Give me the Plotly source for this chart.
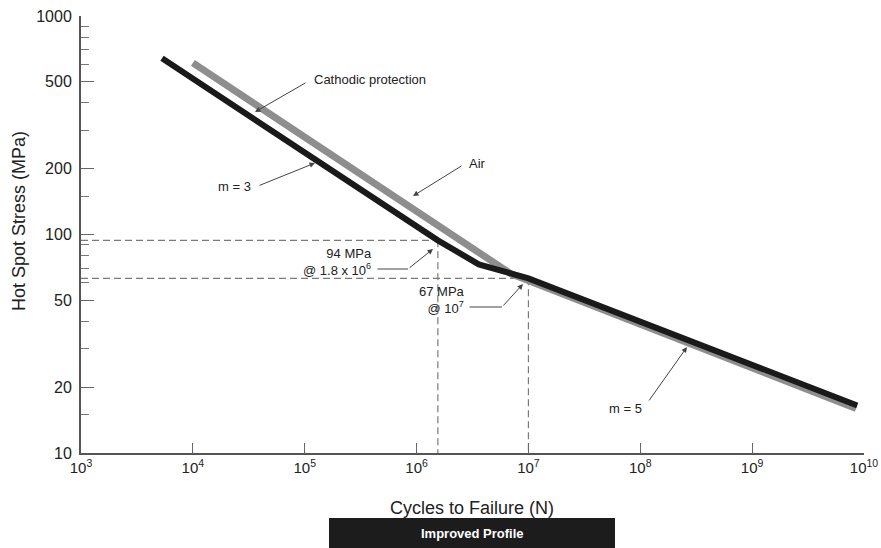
import plotly.graph_objects as go

# ---- data ----
black_cycles = [5.3e3, 1.55e6, 3.6e6, 1.0e7, 8.7e9]
black_stress = [640, 94, 73, 63, 16.5]
gray_cycles = [1.0e4, 7.0e6, 8.5e9]
gray_stress = [610, 66, 16]

knee1_cycles, knee1_stress = 1.55e6, 94
knee2_cycles, knee2_stress = 1.0e7, 63

x_tickvals = [1e3, 1e4, 1e5, 1e6, 1e7, 1e8, 1e9, 1e10]
x_ticktext = ["10<sup>%d</sup>" % e for e in range(3, 11)]
y_tickvals = [10, 20, 50, 100, 200, 500, 1000]
y_ticktext = ["10", "20", "50", "100", "200", "500", "1000"]
y_minor = [15, 30, 40, 60, 70, 80, 90, 150, 300, 400, 600, 700, 800, 900]

FONT = "Liberation Sans, Arial, Helvetica, sans-serif"
W, H = 881, 548
# plot area in page pixels: x 81..864, y 16..453
L, T = 81, 16
R = W - 864
B = H - 453
PW, PH = W - L - R, H - T - B


def px(xp):
    return (xp - 81) / PW


def py(yp):
    return (453 - yp) / PH


fig = go.Figure()

# dashed reference lines
dash = dict(color="#7a7a7a", width=1.2, dash="7px,4px")
fig.add_trace(go.Scatter(x=[1e3, knee1_cycles], y=[knee1_stress, knee1_stress], mode="lines", line=dash, hoverinfo="skip"))
fig.add_trace(go.Scatter(x=[knee1_cycles, knee1_cycles], y=[knee1_stress, 10], mode="lines", line=dash, hoverinfo="skip"))
fig.add_trace(go.Scatter(x=[1e3, knee2_cycles], y=[knee2_stress, knee2_stress], mode="lines", line=dash, hoverinfo="skip"))
fig.add_trace(go.Scatter(x=[knee2_cycles, knee2_cycles], y=[knee2_stress, 10], mode="lines", line=dash, hoverinfo="skip"))

# S-N curves
fig.add_trace(go.Scatter(x=gray_cycles, y=gray_stress, mode="lines",
                         line=dict(color="#8e8e8e", width=7), name="Air"))
fig.add_trace(go.Scatter(x=black_cycles, y=black_stress, mode="lines",
                         line=dict(color="#1a1a1a", width=6), name="Cathodic protection"))

ann = []
acol = "#444444"


def arrow(hx, hy, tx, ty, head=2):
    ann.append(dict(xref="paper", yref="paper", x=px(hx), y=py(hy), ax=tx - hx, ay=ty - hy,
                    text="", showarrow=True, arrowhead=head, arrowsize=1.1, arrowwidth=1,
                    arrowcolor=acol, standoff=0, startstandoff=0))


def label(text, xp, yp, xanchor="left", align="left"):
    ann.append(dict(xref="paper", yref="paper", x=px(xp), y=py(yp), text=text, showarrow=False,
                    xanchor=xanchor, yanchor="middle", align=align,
                    font=dict(family=FONT, size=13, color="#222222")))


arrow(255, 112, 307, 82)
label("Cathodic protection", 312, 79)
arrow(413, 196, 463, 165)
label("Air", 467, 163)
arrow(315, 163, 258, 186)
label("m = 3", 253, 187, xanchor="right")
arrow(433, 249, 408, 269)
arrow(408, 269, 376, 269, head=0)
label("94 MPa<br>@ 1.8 x 10<sup>6</sup>", 374, 262, xanchor="right", align="right")
arrow(523, 284, 502, 307)
arrow(502, 307, 468, 307, head=0)
label("67 MPa<br>@ 10<sup>7</sup>", 467, 300, xanchor="right", align="right")
arrow(687, 347, 648, 402)
label("m = 5", 644, 408, xanchor="right")

# axis titles
ann.append(dict(xref="paper", yref="paper", x=px(472), y=py(508), text="Cycles to Failure (N)",
                showarrow=False, xanchor="center", yanchor="middle",
                font=dict(family=FONT, size=18, color="#222222")))
ann.append(dict(xref="paper", yref="paper", x=px(19), y=py(221), text="Hot Spot Stress (MPa)",
                showarrow=False, xanchor="center", yanchor="middle", textangle=-90,
                font=dict(family=FONT, size=18, color="#222222")))
# footer box label
ann.append(dict(xref="paper", yref="paper", x=px(472), y=py(533), text="<b>Improved Profile</b>",
                showarrow=False, xanchor="center", yanchor="middle",
                font=dict(family=FONT, size=13, color="#ffffff")))

fig.update_layout(
    width=W, height=H,
    margin=dict(l=L, r=R, t=T, b=B, autoexpand=False),
    paper_bgcolor="white", plot_bgcolor="white",
    showlegend=False,
    font=dict(family=FONT, color="#222222"),
    annotations=ann,
    shapes=[dict(type="rect", xref="paper", yref="paper", x0=px(329), x1=px(615),
                 y0=py(550), y1=py(518), fillcolor="#1c1c1c", line=dict(width=0), layer="above")],
    xaxis=dict(type="log", range=[3, 10], tickvals=x_tickvals, ticktext=x_ticktext,
               ticks="inside", ticklen=10, tickwidth=1.3, tickcolor="#666666", automargin=False,
               ticklabeloverflow="allow",
               showline=True, linecolor="#555555", linewidth=2, showgrid=False, zeroline=False,
               tickfont=dict(family=FONT, size=15, color="#222222")),
    yaxis=dict(type="log", range=[1, 3], tickvals=y_tickvals, ticktext=y_ticktext,
               ticks="inside", ticklen=13, tickwidth=1.3, tickcolor="#666666", automargin=False,
               ticklabeloverflow="allow",
               minor=dict(tickvals=y_minor, ticks="inside", ticklen=8, tickwidth=1.3, tickcolor="#777777"),
               showline=True, linecolor="#555555", linewidth=2, showgrid=False, zeroline=False,
               tickfont=dict(family=FONT, size=16, color="#222222"), ticklabelstandoff=4),
)

fig.write_html("out.html", config={"displayModeBar": False},
               post_script="document.body.style.margin='0';document.body.style.overflow='hidden';")
